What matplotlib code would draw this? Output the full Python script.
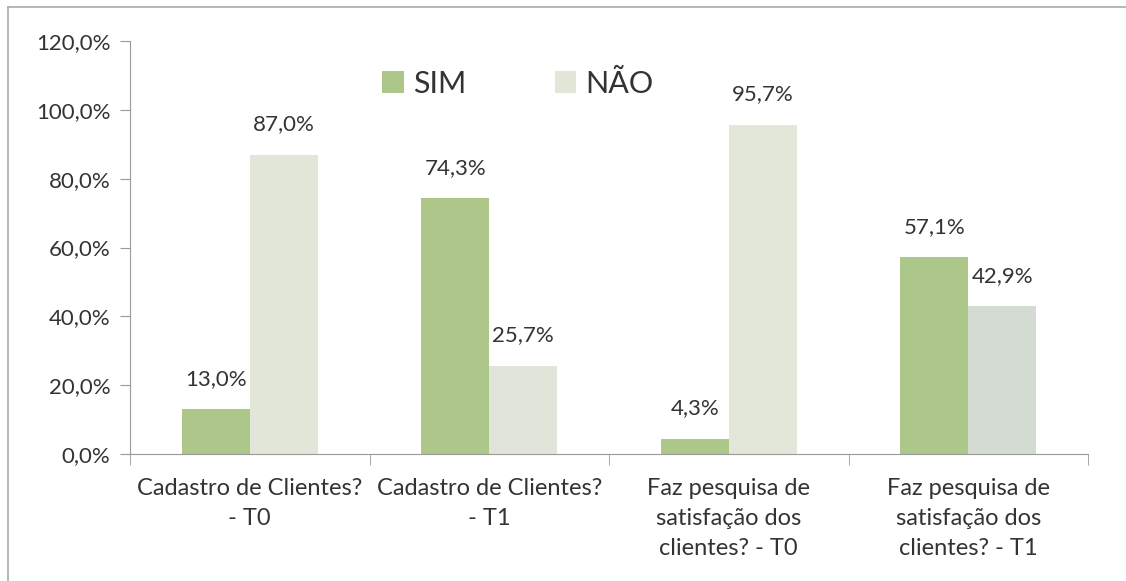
import numpy as np
import matplotlib
matplotlib.use("Agg")
import matplotlib.pyplot as plt
from matplotlib.lines import Line2D

plt.rcParams['font.family'] = ['Lato', 'DejaVu Sans']

categories = [
    "Cadastro de Clientes?\n- T0",
    "Cadastro de Clientes?\n- T1",
    "Faz pesquisa de\nsatisfação dos\nclientes? - T0",
    "Faz pesquisa de\nsatisfação dos\nclientes? - T1",
]
sim = [13.0, 74.3, 4.3, 57.1]
nao = [87.0, 25.7, 95.7, 42.9]
nao_colors = ["#e1e6d8", "#e1e5d9", "#e2e7da", "#d3dbd3"]

fig = plt.figure(figsize=(11.26, 5.81), dpi=100)
ax = fig.add_axes([130 / 1126, 1 - 454 / 581, 958 / 1126, 413 / 581])

x = np.arange(len(categories))
w = 0.284
ax.bar(x - w / 2, sim, w, color="#adc689", label="SIM")
ax.bar(x + w / 2, nao, w, color=nao_colors, label="NÃO")

for i in range(len(categories)):
    ax.text(x[i] - w / 2, sim[i] + 6, f"{sim[i]:.1f}%".replace(".", ","),
            ha="center", va="bottom", fontsize=16, color="#333333")
    ax.text(x[i] + w / 2, nao[i] + 6, f"{nao[i]:.1f}%".replace(".", ","),
            ha="center", va="bottom", fontsize=16, color="#333333")

ax.set_xlim(-0.5, len(categories) - 0.5)
ax.set_ylim(0, 120)
ax.set_yticks(np.arange(0, 121, 20))
ax.set_yticklabels([f"{v:.1f}%".replace(".", ",") for v in np.arange(0, 121, 20)])
ax.tick_params(axis="y", labelsize=16, length=7, color="#999999", labelcolor="#333333", pad=7)

ax.set_xticks(x)
ax.set_xticklabels(categories, fontsize=17, color="#333333", linespacing=1.55)
ax.tick_params(axis="x", length=0, pad=17)
ax.set_xticks(np.arange(-0.5, len(categories)), minor=True)
ax.tick_params(axis="x", which="minor", length=8, color="#999999")

for s in ["top", "right"]:
    ax.spines[s].set_visible(False)
ax.spines["left"].set_color("#999999")
ax.spines["bottom"].set_color("#999999")

leg = fig.legend(loc="upper left", bbox_to_anchor=(355 / 1126, 1 - 42 / 581), ncol=2,
                 frameon=False, fontsize=22, handlelength=0.7, handleheight=0.7,
                 columnspacing=2.9, handletextpad=0.3)
for t in leg.get_texts():
    t.set_color("#333333")

# scanned frame: top and left edges
fig.add_artist(Line2D([8 / 1126, 1], [1 - 7 / 581, 1 - 7 / 581], transform=fig.transFigure,
                      color="#aaaaaa", linewidth=1.2))
fig.add_artist(Line2D([8 / 1126, 8 / 1126], [0, 1 - 7 / 581], transform=fig.transFigure,
                      color="#aaaaaa", linewidth=1.2))

fig.savefig("out.png", dpi=100)
